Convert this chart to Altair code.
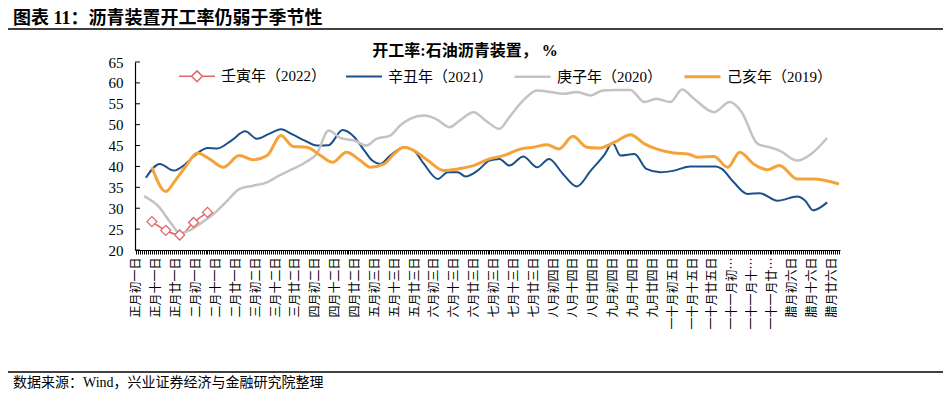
import altair as alt
import pandas as pd

# ---------------- data ----------------
x_labels = ['正月初一日', '正月十一日', '正月廿一日', '二月初一日', '二月十一日', '二月廿一日',
            '三月初二日', '三月十二日', '三月廿二日', '四月初二日', '四月十二日', '四月廿二日',
            '五月初三日', '五月十三日', '五月廿三日', '六月初三日', '六月十三日', '六月廿三日',
            '七月初三日', '七月十三日', '七月廿三日', '八月初四日', '八月十四日', '八月廿四日',
            '九月初四日', '九月十四日', '九月廿四日', '一十月初五日', '一十月十五日', '一十月廿五日',
            '一十一月初五日', '一十一月十五日', '一十一月廿五日', '腊月初六日', '腊月十六日', '腊月廿六日']

series_names = ['壬寅年（2022）', '辛丑年（2021）', '庚子年（2020）', '己亥年（2019）']
series_colors = ['#E06666', '#1B4F8C', '#C3C3C3', '#F6A23A']
series_widths = [1.5, 3, 2.25, 3]

days_2022 = [8, 15, 22, 29, 36]
vals_2022 = [26.8, 24.7, 23.6, 26.6, 29.0]

days_2021 = [5, 12, 19, 24, 29, 36, 41, 48, 55, 61, 67, 73, 79, 85, 91, 97, 104, 110, 115, 119,
             123, 128, 135, 140, 145, 152, 157, 162, 166, 172, 178, 183, 188, 195, 202, 208, 215,
             222, 229, 236, 240, 244, 251, 257, 264, 271, 279, 287, 292, 295, 301, 308, 314, 323,
             333, 337, 341, 345, 348]
vals_2021 = [37.3, 40.6, 39.0, 40.2, 42.4, 44.4, 44.3, 46.2, 48.4, 46.6, 47.8, 48.9, 47.6, 46.2,
             45.0, 45.1, 48.7, 47.0, 43.8, 41.4, 40.6, 42.6, 44.6, 43.8, 40.6, 37.0, 38.6, 38.6,
             37.6, 39.0, 41.4, 41.8, 40.2, 42.4, 39.8, 41.8, 38.2, 35.2, 39.0, 42.9, 45.6, 42.6,
             43.0, 39.4, 38.6, 39.0, 40.0, 40.0, 40.0, 39.4, 36.2, 33.4, 33.6, 31.8, 32.8, 31.8,
             29.5, 30.3, 31.4]

days_2020 = [4, 11, 18, 22, 27, 32, 39, 46, 52, 59, 66, 72, 79, 86, 91, 97, 103, 110, 116, 121,
             128, 133, 138, 145, 151, 158, 163, 170, 176, 183, 188, 195, 202, 209, 215, 222, 229,
             235, 242, 249, 256, 262, 269, 275, 281, 291, 299, 305, 313, 319, 324, 333, 340, 348]
vals_2020 = [32.9, 30.6, 26.2, 24.0, 24.7, 26.2, 28.6, 31.8, 34.6, 35.4, 36.2, 37.8, 39.4, 41.2,
             43.0, 48.6, 46.8, 46.2, 45.0, 46.6, 47.4, 49.8, 51.4, 52.2, 51.4, 49.4, 51.0, 53.0,
             51.0, 49.0, 51.8, 55.8, 58.2, 57.8, 57.4, 57.8, 57.0, 58.2, 58.3, 58.3, 55.4, 56.2,
             55.4, 58.4, 56.2, 53.0, 55.4, 53.0, 45.4, 44.6, 43.8, 41.4, 43.0, 46.8]

days_2019 = [8, 15, 20, 25, 31, 37, 44, 52, 59, 66, 73, 79, 86, 93, 99, 106, 113, 118, 125, 130,
             135, 140, 147, 155, 162, 170, 178, 185, 194, 200, 207, 213, 220, 227, 233, 241, 249,
             256, 262, 271, 278, 283, 291, 298, 304, 311, 318, 324, 333, 341, 354]
vals_2019 = [39.8, 34.0, 36.8, 40.0, 43.2, 41.8, 39.8, 42.6, 41.6, 42.6, 47.4, 44.8, 44.6, 42.6,
             41.0, 43.4, 41.4, 39.8, 40.6, 43.0, 44.6, 43.8, 41.4, 39.0, 39.4, 40.2, 41.8, 42.6,
             44.2, 44.6, 45.2, 44.2, 47.2, 44.6, 44.4, 45.8, 47.6, 45.4, 44.2, 43.2, 43.0, 42.2,
             42.4, 39.8, 43.4, 40.6, 39.2, 40.2, 37.0, 37.0, 35.8]

y_ticks = [20, 25, 30, 35, 40, 45, 50, 55, 60, 65]

header_text = '图表 11：沥青装置开工率仍弱于季节性'
chart_title = '开工率:石油沥青装置， %'
source_text = '数据来源：Wind，兴业证券经济与金融研究院整理'

# ---------------- build tables ----------------
rows = []
for name, ds, vs in zip(series_names,
                        [days_2022, days_2021, days_2020, days_2019],
                        [vals_2022, vals_2021, vals_2020, vals_2019]):
    for d, v in zip(ds, vs):
        rows.append({'series': name, 'day': d, 'value': v})
df = pd.DataFrame(rows)
df_2022 = df[df['series'] == series_names[0]]

label_array = '[' + ','.join("'" + s + "'" for s in x_labels) + ']'
label_expr = "datum.value % 10 === 0 ? " + label_array + "[datum.value / 10] : ''"

W, H = 705, 188
serif_cjk = 'Liberation Serif, Noto Sans CJK SC'

x_scale = alt.Scale(domain=[-0.5, 354.5], nice=False, zero=False)
y_scale = alt.Scale(domain=[20, 65], nice=False, zero=False)

x_axis = alt.Axis(
    title=None, values=list(range(355)), labelExpr=label_expr, labelAngle=-90,
    labelFont='Noto Sans CJK SC', labelFontSize=12, labelColor='black', labelLimit=80,
    labelOverlap=False, labelFlush=False, labelBound=False, labelPadding=3,
    tickSize=4, tickColor='black', tickWidth=1, domainColor='black', domainWidth=1.2,
    grid=False)
y_axis = alt.Axis(
    title=None, values=y_ticks, ticks=False, tickSize=0, labelFont='Liberation Serif',
    labelFontSize=15, labelColor='black', labelPadding=12, domainColor='black',
    domainWidth=1.2, grid=False, labelFlush=False, labelOverlap=False)

diamond_path = 'M-1,0L-0.3,0M0.3,0L1,0M0,-0.3L0.3,0L0,0.3L-0.3,0Z'
shape_expr = "datum.value === '" + series_names[0] + "' ? '" + diamond_path + "' : 'stroke'"
width_expr = ("datum.value === '" + series_names[0] + "' ? 1.5 : (datum.value === '"
              + series_names[2] + "' ? 2.25 : 3)")

lines = alt.Chart(df).mark_line(interpolate='monotone').encode(
    x=alt.X('day:Q', scale=x_scale, axis=x_axis),
    y=alt.Y('value:Q', scale=y_scale, axis=y_axis),
    color=alt.Color('series:N', scale=alt.Scale(domain=series_names, range=series_colors),
                    sort=series_names,
                    legend=alt.Legend(
                        title=None, orient='none', legendX=43, legendY=-5,
                        direction='horizontal', labelFont=serif_cjk, labelFontSize=15,
                        labelColor='black', symbolSize=1296,
                        symbolType=alt.ExprRef(expr=shape_expr),
                        symbolStrokeWidth=alt.ExprRef(expr=width_expr),
                        symbolFillColor='white',
                        columnPadding=15, labelOffset=5)),
    strokeWidth=alt.StrokeWidth('series:N', scale=alt.Scale(domain=series_names, range=series_widths),
                                legend=None),
)

markers = alt.Chart(df_2022).mark_point(shape='diamond', filled=True, fill='white',
                                         stroke=series_colors[0], strokeWidth=1.3, size=100,
                                         opacity=1).encode(
    x=alt.X('day:Q', scale=x_scale, axis=x_axis),
    y=alt.Y('value:Q', scale=y_scale, axis=y_axis),
)

tick_df = pd.DataFrame({'value': y_ticks})
y_tick_rules = alt.Chart(tick_df).mark_rule(color='black', strokeWidth=1).encode(
    y=alt.Y('value:Q', scale=y_scale, axis=y_axis),
    x=alt.value(0), x2=alt.value(5),
)

one = pd.DataFrame({'t': [header_text]})
header = alt.Chart(one).mark_text(align='left', baseline='middle', font=serif_cjk,
                                  fontSize=18, fontWeight='bold', color='black').encode(
    text='t:N', x=alt.value(-122), y=alt.value(-43.5))
header_line = alt.Chart(one).mark_rule(color='black', strokeWidth=1.3).encode(
    x=alt.value(-127), x2=alt.value(808), y=alt.value(-33))

title_df = pd.DataFrame({'t': [chart_title]})
title = alt.Chart(title_df).mark_text(align='center', baseline='middle', font=serif_cjk,
                                      fontSize=16, fontWeight='bold', color='black').encode(
    text='t:N', x=alt.value(330), y=alt.value(-11))

src_df = pd.DataFrame({'t': [source_text]})
footer_line = alt.Chart(src_df).mark_rule(color='black', strokeWidth=1.3).encode(
    x=alt.value(-127), x2=alt.value(808), y=alt.value(310))
footer = alt.Chart(src_df).mark_text(align='left', baseline='middle', font=serif_cjk,
                                     fontSize=14, color='black').encode(
    text='t:N', x=alt.value(-122), y=alt.value(320.5))

chart = alt.layer(
    lines, markers, y_tick_rules, header, header_line, title, footer_line, footer
).properties(
    width=W, height=H,
    padding={'left': 127, 'top': 54, 'right': 103, 'bottom': 140},
    autosize=alt.AutoSizeParams(type='none'),
    background='white',
).configure_view(strokeWidth=0)

chart.save('out.html', embed_options={'renderer': 'svg', 'actions': False})
